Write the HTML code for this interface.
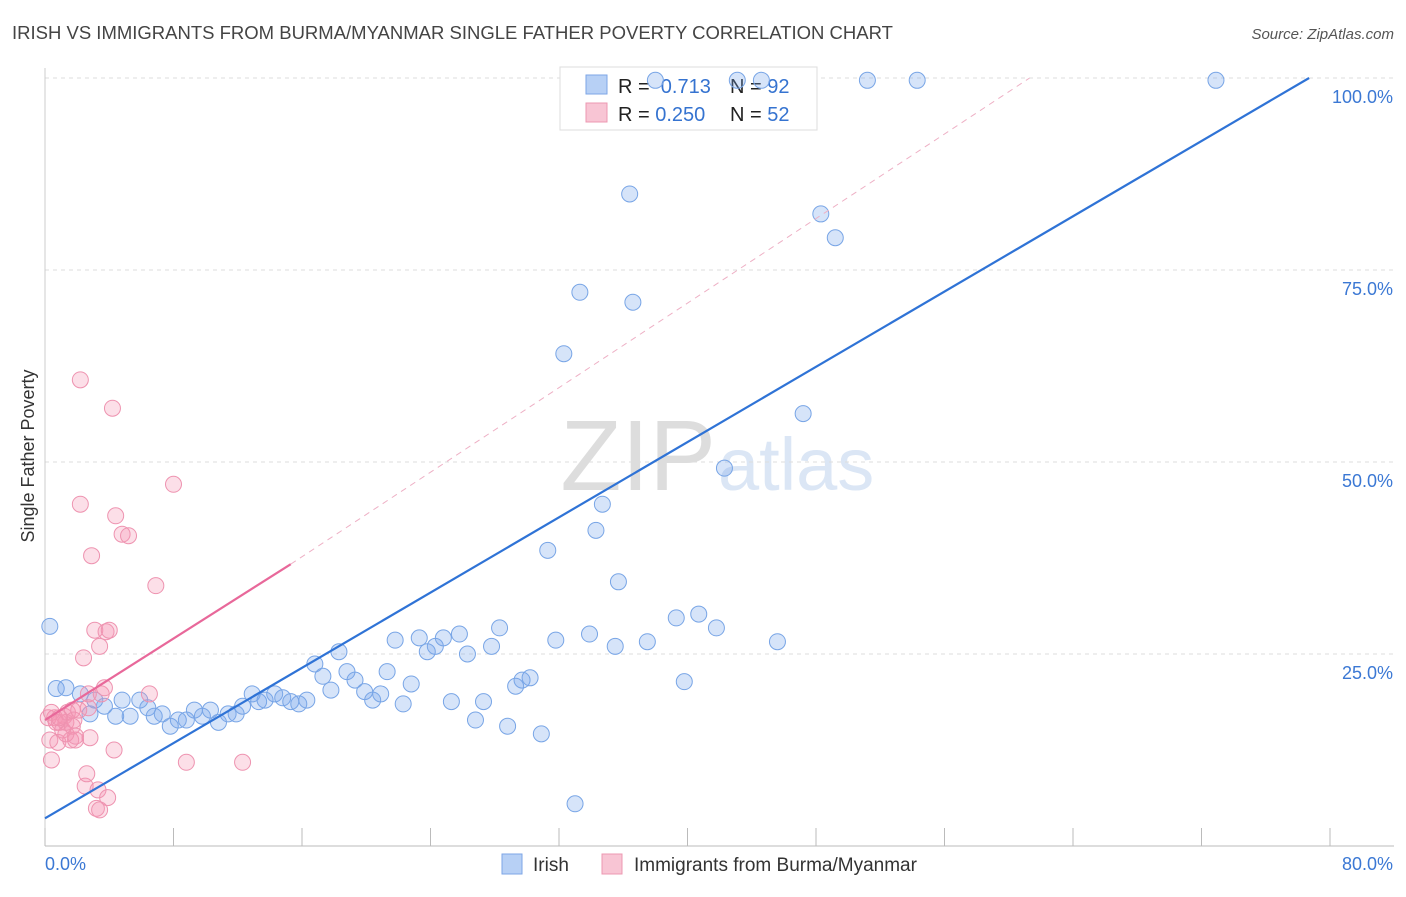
<!DOCTYPE html>
<html><head><meta charset="utf-8"><style>
body{margin:0;background:#fff;font-family:"Liberation Sans",sans-serif;}
svg text{font-family:"Liberation Sans",sans-serif;}
</style></head><body>
<svg id="chart" width="1406" height="892" xmlns="http://www.w3.org/2000/svg">
<text x="12" y="39" font-size="18.5" fill="#444">IRISH VS IMMIGRANTS FROM BURMA/MYANMAR SINGLE FATHER POVERTY CORRELATION CHART</text>
<text x="1394" y="39" font-size="15" fill="#555" font-style="italic" text-anchor="end">Source: ZipAtlas.com</text>
<text x="34" y="456" font-size="18" fill="#333" text-anchor="middle" transform="rotate(-90 34 456)">Single Father Poverty</text>
<text x="716" y="490" font-size="100" fill="#ddd" text-anchor="end" font-family="Liberation Serif">ZIP</text>
<text x="718" y="490" font-size="74" fill="#dbe6f5">atlas</text>
<g id="grid"></g>
<g>
<rect x="560" y="67" width="257" height="63" fill="#fff" stroke="#ddd"/>
<rect x="586" y="75" width="21" height="19" fill="#b7d0f5" stroke="#7ea6e6"/>
<rect x="586" y="103" width="21" height="19" fill="#f8c5d4" stroke="#ec98b2"/>
<text x="618" y="93" font-size="20" fill="#222">R = <tspan fill="#3573d0">&#160;0.713</tspan></text>
<text x="730" y="93" font-size="20" fill="#222">N = <tspan fill="#3573d0">92</tspan></text>
<text x="618" y="121" font-size="20" fill="#222">R = <tspan fill="#3573d0">0.250</tspan></text>
<text x="730" y="121" font-size="20" fill="#222">N = <tspan fill="#3573d0">52</tspan></text>
</g>
<g id="marks"></g><g id="lines"></g>
<g>
<rect x="502" y="854" width="20" height="20" fill="#b7d0f5" stroke="#7ea6e6"/>
<text x="533" y="871" font-size="19" fill="#333">Irish</text>
<rect x="602" y="854" width="20" height="20" fill="#f8c5d4" stroke="#ec98b2"/>
<text x="634" y="871" font-size="19" fill="#333">Immigrants from Burma/Myanmar</text>
</g>
</svg>
<script>
const xTicks=[0,8,16,24,32,40,48,56,64,72,80];
const yTicks=[25,50,75,100];
const yTickLabels=["25.0%","50.0%","75.0%","100.0%"];
const irishX=[0.3,0.7,1.3,2.2,2.8,3.1,3.7,4.4,4.8,5.3,5.9,6.4,6.8,7.3,7.8,8.3,8.8,9.3,9.8,10.3,10.8,11.4,11.9,12.3,12.9,13.3,13.7,14.3,14.8,15.3,15.8,16.3,16.8,17.3,17.8,18.3,18.8,19.3,19.9,20.4,20.9,21.3,21.8,22.3,22.8,23.3,23.8,24.3,24.8,25.3,25.8,26.3,26.8,27.3,27.8,28.3,28.8,29.3,29.7,30.2,30.9,31.3,31.8,32.3,33.0,33.3,33.9,34.3,34.7,35.5,35.7,36.4,36.6,37.5,39.3,39.8,40.7,41.8,42.3,45.6,47.2,48.3,49.2,38.0,43.1,44.6,51.2,54.3,72.9];
const irishY=[28.6,20.5,20.6,19.8,17.2,19.0,18.2,16.9,19.0,16.9,19.0,18.0,16.9,17.2,15.6,16.4,16.4,17.7,16.9,17.7,16.1,17.2,17.2,18.2,19.8,18.8,19.0,19.8,19.3,18.8,18.5,19.0,23.7,22.1,20.3,25.3,22.7,21.6,20.1,19.0,19.8,22.7,26.8,18.5,21.1,27.1,25.3,26.0,27.1,18.8,27.6,25.0,16.4,18.8,26.0,28.4,15.6,20.8,21.6,21.9,14.6,38.5,26.8,64.1,5.5,72.1,27.6,41.1,44.5,26.0,34.4,84.9,70.8,26.6,29.7,21.4,30.2,28.4,49.2,26.6,56.3,82.3,79.2,99.7,99.7,99.7,99.7,99.7,99.7];
const burmaX=[0.2,0.3,0.4,0.6,0.8,0.9,1.1,1.2,1.3,1.4,1.6,1.7,1.8,1.9,2.1,2.2,2.2,2.4,2.5,2.6,2.7,2.8,2.9,3.1,3.2,3.3,3.4,3.4,3.5,3.7,3.8,3.9,4.0,4.2,4.3,4.4,4.8,5.2,6.5,6.9,8.0,8.8,12.3,0.4,0.7,0.9,1.3,1.7,1.9,2.7];
const burmaY=[16.7,13.8,11.2,16.7,13.5,16.1,15.1,16.9,16.1,17.4,13.8,17.7,16.4,13.8,17.7,44.5,60.7,24.5,7.8,9.4,19.8,14.1,37.8,28.1,4.9,7.3,4.7,26.0,19.8,20.6,27.9,6.3,28.1,57.0,12.5,43.0,40.6,40.4,19.8,33.9,47.1,10.9,10.9,17.4,16.1,16.7,14.6,15.6,14.3,18.0];
const irishTrend=[[0,3.6],[78.7,100]];
const burmaTrend=[[0,16.4],[15.3,36.7]];
const burmaTrendExt=[[15.3,36.7],[61.3,100]];
const NS="http://www.w3.org/2000/svg";
const X0=45,X1=1330,Y0=846,Y100=78;
const sx=v=>X0+(v/80)*(X1-X0);
const sy=v=>Y0-(v/100)*(Y0-Y100);
function mk(tag,attrs,parent){const e=document.createElementNS(NS,tag);for(const k in attrs)e.setAttribute(k,attrs[k]);parent.appendChild(e);return e;}
const grid=document.getElementById('grid'),marks=document.getElementById('marks'),lines=document.getElementById('lines');
yTicks.forEach((t,i)=>{
 const l=mk('line',{x1:X0,x2:1394,y1:sy(t),y2:sy(t),stroke:'#ddd','stroke-dasharray':'4,4'},grid);
 
 
 const tx=mk('text',{x:1393,y:sy(t)+25,'font-size':18,fill:'#3b78d4','text-anchor':'end'},grid);
 tx.textContent=yTickLabels[i];
 
 
});
const ax=mk('line',{x1:X0,x2:1394,y1:Y0,y2:Y0,stroke:'#bbb'},grid);


const ay=mk('line',{x1:X0,x2:X0,y1:68,y2:Y0,stroke:'#ccc'},grid);


xTicks.forEach(t=>{
 const l=mk('line',{x1:sx(t),x2:sx(t),y1:828,y2:Y0,stroke:'#bbb'},grid);
 
 
});
const xl0=mk('text',{x:45,y:870,'font-size':18,fill:'#3b78d4'},grid);xl0.textContent='0.0%';


const xl1=mk('text',{x:1393,y:870,'font-size':18,fill:'#3b78d4','text-anchor':'end'},grid);xl1.textContent='80.0%';


irishX.forEach((x,i)=>{
 const c=mk('circle',{cx:sx(x),cy:sy(irishY[i]),r:8,fill:'rgba(120,165,235,0.3)',stroke:'#78a5e6','stroke-width':1},marks);
 
 
});
burmaX.forEach((x,i)=>{
 const c=mk('circle',{cx:sx(x),cy:sy(burmaY[i]),r:8,fill:'rgba(245,150,180,0.3)',stroke:'#ee93b0','stroke-width':1},marks);
 
 
});
const l1=mk('line',{x1:sx(irishTrend[0][0]),y1:sy(irishTrend[0][1]),x2:sx(irishTrend[1][0]),y2:sy(irishTrend[1][1]),stroke:'#2f73d6','stroke-width':2.2},lines);


const l2=mk('line',{x1:sx(burmaTrend[0][0]),y1:sy(burmaTrend[0][1]),x2:sx(burmaTrend[1][0]),y2:sy(burmaTrend[1][1]),stroke:'#e8689a','stroke-width':2.2},lines);


const l3=mk('line',{x1:sx(burmaTrendExt[0][0]),y1:sy(burmaTrendExt[0][1]),x2:sx(burmaTrendExt[1][0]),y2:sy(burmaTrendExt[1][1]),stroke:'#eeb0c5','stroke-width':1,'stroke-dasharray':'6,5'},lines);


</script>
</body></html>
